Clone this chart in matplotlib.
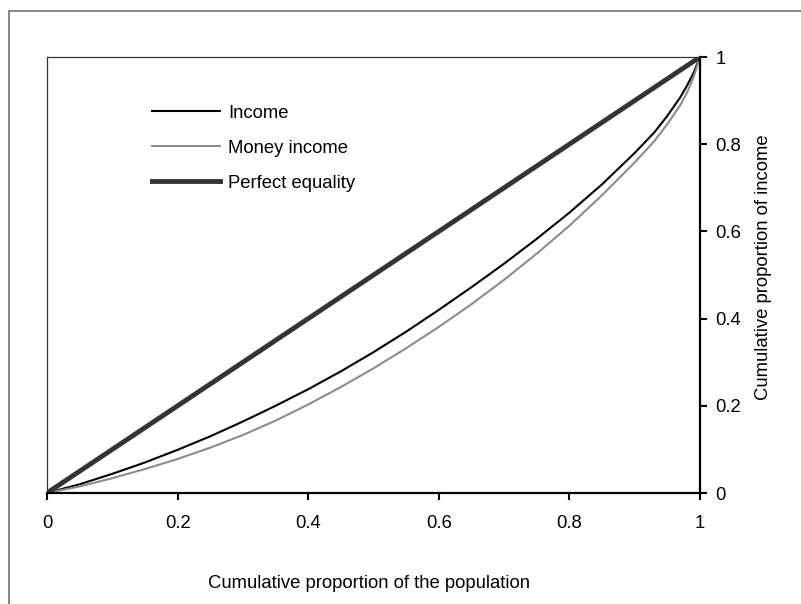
import numpy as np
import matplotlib
matplotlib.use("Agg")
import matplotlib.pyplot as plt
from matplotlib.patches import Rectangle

plt.rcParams['font.family'] = ['Liberation Sans', 'DejaVu Sans']

# cumulative share of population
pop = [0, 0.05, 0.1, 0.15, 0.2, 0.25, 0.3, 0.35, 0.4, 0.45, 0.5, 0.55,
       0.6, 0.65, 0.7, 0.75, 0.8, 0.85, 0.9, 0.93, 0.95, 0.97, 0.98, 0.99, 1.0]
# Lorenz curves
income = [0, 0.020, 0.044, 0.070, 0.099, 0.130, 0.164, 0.200, 0.238, 0.279, 0.323, 0.370,
          0.420, 0.472, 0.526, 0.583, 0.643, 0.708, 0.780, 0.827, 0.865, 0.908, 0.934, 0.963, 1.0]
money_income = [0, 0.015, 0.034, 0.055, 0.078, 0.104, 0.133, 0.166, 0.203, 0.243, 0.286, 0.332,
                0.381, 0.433, 0.489, 0.549, 0.613, 0.683, 0.758, 0.807, 0.846, 0.890, 0.918, 0.953, 1.0]
equality = [0, 1]

ticks = [0, 0.2, 0.4, 0.6, 0.8, 1]
tick_labels = ['0', '0.2', '0.4', '0.6', '0.8', '1']

W, H = 801, 604
fs = 13.3
fig = plt.figure(figsize=(W / 100, H / 100), dpi=100)

# outer chart frame (runs off the right and bottom edge)
fig.patches.append(Rectangle((8.5 / W, -0.2), 1.0, 1.2 - 10.5 / H, transform=fig.transFigure,
                             fill=False, edgecolor='#6e6e6e', linewidth=1.2))

ax = fig.add_axes([47 / W, 1 - 493 / H, 653 / W, 436 / H])

ax.plot(pop, income, color='black', linewidth=1.5, label='Income')
ax.plot(pop, money_income, color='#8c8c8c', linewidth=1.5, label='Money income')
ax.plot(equality, equality, color='#333333', linewidth=3.5, label='Perfect equality')

ax.set_xlim(0, 1)
ax.set_ylim(0, 1)

ax.yaxis.tick_right()
ax.set_xticks(ticks)
ax.set_xticklabels(tick_labels)
ax.set_yticks(ticks)
ax.set_yticklabels(tick_labels)
ax.tick_params(axis='x', direction='out', length=5, width=1.5, pad=11, labelsize=fs)
ax.tick_params(axis='y', direction='out', length=5, width=1.5, pad=6, labelsize=fs,
               right=True, left=False)

for side in ['left', 'top']:
    ax.spines[side].set_linewidth(0.9)
    ax.spines[side].set_color('#333333')
for side in ['bottom', 'right']:
    ax.spines[side].set_linewidth(1.6)
    ax.spines[side].set_color('black')

fig.text(369 / W, 1 - 584 / H, 'Cumulative proportion of the population',
         ha='center', va='center', fontsize=fs)
fig.text(763 / W, 1 - 267 / H, 'Cumulative proportion of income',
         ha='center', va='center', rotation=90, fontsize=fs)

ax.legend(loc='upper left', bbox_to_anchor=(0.149, 0.908),
          frameon=False, fontsize=fs, handlelength=3.7, handletextpad=0.44,
          labelspacing=0.98, borderaxespad=0)

fig.savefig('out.png', dpi=100)
